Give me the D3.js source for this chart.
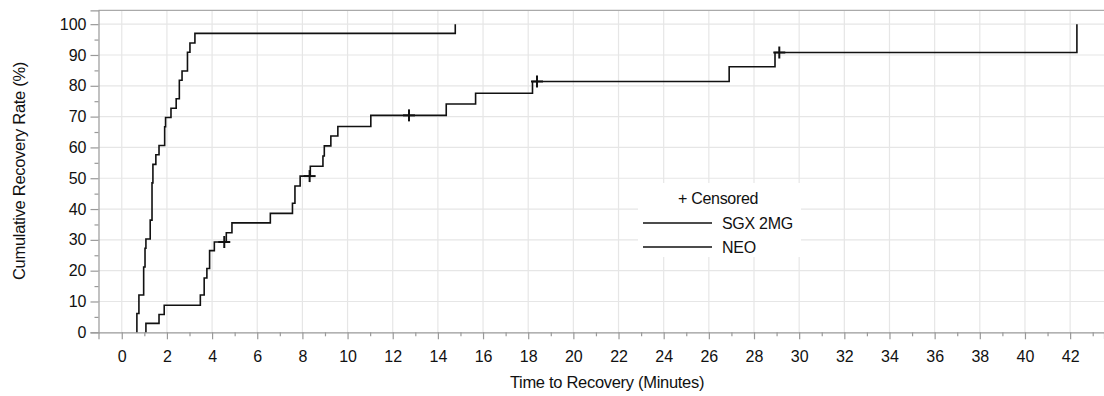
<!DOCTYPE html>
<html>
<head>
<meta charset="utf-8">
<script src="https://cdn.jsdelivr.net/npm/d3@7"></script>
<style>
    body { margin: 0; background: #fff; }
    svg text { font-family: "Liberation Sans", Arial, sans-serif; fill: #111; }
</style>
</head>
<body>
<svg id="chart" width="1104" height="396"></svg>
<script>
// NEO group: event times (min) and cumulative recovery (%)
let neo_times = [0.67, 0.76, 0.97, 1.03, 1.07, 1.26, 1.34, 1.38, 1.51, 1.65, 1.90, 1.94, 2.18, 2.41, 2.55, 2.67, 2.91, 3.02, 3.24, 14.77],
    neo_rates = [6.1, 12.1, 21.2, 27.3, 30.3, 36.4, 48.5, 54.5, 57.6, 60.6, 66.7, 69.7, 72.7, 75.8, 81.8, 84.8, 90.9, 93.9, 97.0, 100];

// SGX 2MG group
let sgx_times = [1.07, 1.65, 1.88, 3.48, 3.65, 3.77, 3.89, 4.10, 4.63, 4.88, 6.58, 7.56, 7.67, 7.90, 8.35, 8.91, 8.97, 9.26, 9.57, 11.03, 14.37, 15.67, 18.19, 26.90, 28.93, 42.30],
    sgx_rates = [2.9, 5.8, 8.8, 12.1, 17.6, 20.7, 26.5, 29.3, 32.3, 35.5, 38.6, 41.9, 47.5, 50.7, 53.9, 57.2, 60.5, 63.7, 66.8, 70.4, 74.1, 77.6, 81.4, 86.2, 90.8, 100];
let sgx_censored = [4.54, 8.32, 12.72, 18.39, 29.12];

let x_ticks = d3.range(0, 43, 2),
    x_minor = d3.range(1, 44, 2),
    y_ticks = d3.range(0, 101, 10),
    y_minor = d3.range(5, 101, 10);

let legend_items = ["SGX 2MG", "NEO"];

let svg = d3.select("#chart"),
    x = d3.scaleLinear().domain([-1.03, 43.5]).range([98.5, 1104]),
    y = d3.scaleLinear().domain([0, 104.5]).range([332.3, 10.3]);

// gridlines
let grid = svg.append("g").attr("class", "grid");
grid.selectAll("line.gx").data(x_ticks).enter().append("line")
    .attr("x1", d => x(d)).attr("x2", d => x(d))
    .attr("y1", y(104.5)).attr("y2", y(0))
    .attr("stroke", "#e6e6e6").attr("stroke-width", 1.2);
grid.selectAll("line.gy").data(y_ticks.slice(1)).enter().append("line")
    .attr("x1", x(-1.03)).attr("x2", 1104)
    .attr("y1", d => y(d)).attr("y2", d => y(d))
    .attr("stroke", "#e6e6e6").attr("stroke-width", 1.2);

// top border
svg.append("line")
    .attr("x1", x(-1.03)).attr("x2", 1104)
    .attr("y1", y(104.5)).attr("y2", y(104.5))
    .attr("stroke", "#aaa").attr("stroke-width", 1.2);

// axes
svg.append("g").attr("transform", "translate(0," + y(0) + ")")
    .call(d3.axisBottom(x).tickValues(x_ticks).tickSize(7).tickPadding(11).tickFormat(d3.format("d")));
svg.append("g").attr("transform", "translate(0," + y(0) + ")")
    .call(d3.axisBottom(x).tickValues(x_minor).tickSize(4).tickFormat(""))
    .select(".domain").remove();
svg.append("g").attr("transform", "translate(" + x(-1.03) + ",0)")
    .call(d3.axisLeft(y).tickValues(y_ticks).tickSize(8).tickPadding(4).tickFormat(d3.format("d")));
svg.append("g").attr("transform", "translate(" + x(-1.03) + ",0)")
    .call(d3.axisLeft(y).tickValues(y_minor).tickSize(4).tickFormat(""))
    .select(".domain").remove();

svg.selectAll(".domain").attr("stroke", "#999").attr("stroke-width", 1.2);
svg.selectAll(".tick line").attr("stroke", "#999").attr("stroke-width", 1.2);
svg.selectAll(".tick text").attr("font-size", 16).attr("font-family", "Liberation Sans, Arial, sans-serif").attr("fill", "#111");

// axis titles
svg.append("text")
    .attr("x", 607).attr("y", 388)
    .attr("text-anchor", "middle").attr("font-size", 16.5)
    .attr("letter-spacing", -0.3)
    .text("Time to Recovery (Minutes)");
svg.append("text")
    .attr("transform", "translate(25,171) rotate(-90)")
    .attr("text-anchor", "middle").attr("font-size", 16.5)
    .attr("letter-spacing", -0.3)
    .text("Cumulative Recovery Rate (%)");

// step curves
function km_points(times, rates) {
    let pts = [[times[0], 0]];
    times.forEach((t, i) => pts.push([t, rates[i]]));
    return pts;
}
let step_line = d3.line().x(d => x(d[0])).y(d => y(d[1])).curve(d3.curveStepAfter);

let curves = svg.append("g").attr("class", "curves");
[[neo_times, neo_rates], [sgx_times, sgx_rates]].forEach(c => {
    curves.append("path")
        .datum(km_points(c[0], c[1]))
        .attr("d", step_line)
        .attr("fill", "none")
        .attr("stroke", "#111")
        .attr("stroke-width", 1.6);
});

// censored marks
function rate_at(times, rates, t) {
    let r = 0;
    times.forEach((ti, i) => { if (ti <= t) r = rates[i]; });
    return r;
}
let plus = svg.append("g").attr("class", "censored");
sgx_censored.forEach(t => {
    let cx = x(t), cy = y(rate_at(sgx_times, sgx_rates, t));
    plus.append("line").attr("x1", cx - 6).attr("x2", cx + 6).attr("y1", cy).attr("y2", cy)
        .attr("stroke", "#111").attr("stroke-width", 2);
    plus.append("line").attr("x1", cx).attr("x2", cx).attr("y1", cy - 6).attr("y2", cy + 6)
        .attr("stroke", "#111").attr("stroke-width", 2);
});

// legend
let legend = svg.append("g").attr("class", "legend");
legend.append("rect")
    .attr("x", 638).attr("y", 183).attr("width", 163).attr("height", 74)
    .attr("fill", "#fff");
legend.append("text")
    .attr("x", 678).attr("y", 204).attr("font-size", 16)
    .attr("letter-spacing", -0.3)
    .text("+ Censored");
legend_items.forEach((name, i) => {
    let ly = 223 + i * 24;
    legend.append("line")
        .attr("x1", 643).attr("x2", 712).attr("y1", ly).attr("y2", ly)
        .attr("stroke", "#111").attr("stroke-width", 1.6);
    legend.append("text")
        .attr("x", 722).attr("y", ly + 6).attr("font-size", 16)
        .attr("letter-spacing", -0.3)
        .text(name);
});
</script>
</body>
</html>
